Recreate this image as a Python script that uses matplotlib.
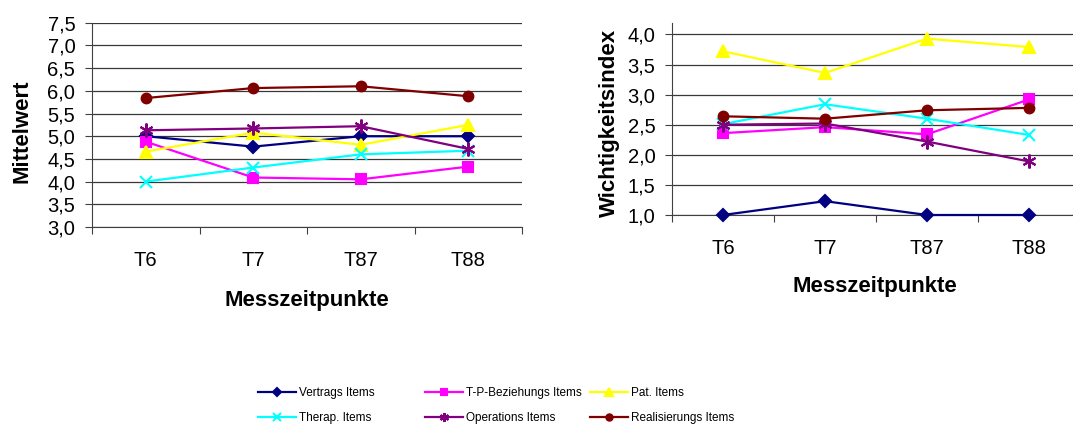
import matplotlib.pyplot as plt
import numpy as np

plt.rcParams['font.family'] = ['Liberation Sans', 'DejaVu Sans']

zeitpunkte = ['T6', 'T7', 'T87', 'T88']
namen = ['Vertrags Items', 'T-P-Beziehungs Items', 'Pat. Items',
         'Therap. Items', 'Operations Items', 'Realisierungs Items']

# Mittelwerte (linkes Diagramm)
mw_vertrag = [5.0, 4.77, 5.0, 5.0]
mw_tp = [4.88, 4.09, 4.05, 4.33]
mw_pat = [4.66, 5.08, 4.81, 5.25]
mw_therap = [4.0, 4.31, 4.6, 4.68]
mw_oper = [5.13, 5.17, 5.22, 4.72]
mw_real = [5.84, 6.06, 6.1, 5.88]

# Wichtigkeitsindex (rechtes Diagramm)
wi_vertrag = [1.0, 1.23, 1.0, 1.0]
wi_tp = [2.36, 2.46, 2.34, 2.92]
wi_pat = [3.72, 3.36, 3.93, 3.79]
wi_therap = [2.51, 2.84, 2.6, 2.33]
wi_oper = [2.5, 2.52, 2.22, 1.89]
wi_real = [2.64, 2.6, 2.74, 2.78]

farben = ['#000080', '#FF00FF', '#FFFF00', '#00FFFF', '#800080', '#800000']
marker = ['D', 's', '^', 'x', (6, 2, 0), 'o']
msize = [6, 7, 8, 8, 10, 7]

fig = plt.figure(figsize=(10.73, 4.3), dpi=100)
ax1 = fig.add_axes([92 / 1073, 1 - 227 / 430, 430 / 1073, 204.3 / 430])
ax2 = fig.add_axes([672 / 1073, 1 - 215 / 430, 408 / 1073, 192 / 430])

x = np.arange(len(zeitpunkte))
handles = []
for ax, daten in [(ax1, [mw_vertrag, mw_tp, mw_pat, mw_therap, mw_oper, mw_real]),
                  (ax2, [wi_vertrag, wi_tp, wi_pat, wi_therap, wi_oper, wi_real])]:
    hs = []
    for werte, c, m, ms, name in zip(daten, farben, marker, msize, namen):
        h, = ax.plot(x, werte, color=c, marker=m, markersize=ms, lw=1.6,
                     markeredgewidth=1.5, label=name, clip_on=False, zorder=3)
        hs.append(h)
    handles = hs
    ax.set_xlim(-0.5, 3.5)
    ax.set_xticks([-0.5, 0.5, 1.5, 2.5, 3.5])
    ax.set_xticklabels([])
    ax.set_xticks(x, minor=True)
    ax.set_xticklabels(zeitpunkte, minor=True)
    ax.tick_params(axis='x', which='major', direction='out', length=5, color='#404040')
    ax.tick_params(axis='x', which='minor', length=0, pad=17, labelsize=14.5)
    ax.tick_params(axis='y', direction='out', length=5, pad=7, labelsize=14.5, color='#404040')
    ax.grid(axis='y', color='#383838', lw=0.9)
    ax.set_axisbelow(True)
    for s in ['top', 'right']:
        ax.spines[s].set_visible(False)
    for s in ['left', 'bottom']:
        ax.spines[s].set_color('#404040')
    ax.set_xlabel('Messzeitpunkte', fontsize=16, fontweight='bold')

ax1.set_ylim(3.0, 7.5)
ax1.set_yticks(np.arange(3.0, 7.51, 0.5))
ax1.set_yticklabels([f'{v:.1f}'.replace('.', ',') for v in np.arange(3.0, 7.51, 0.5)])
ax1.set_ylabel('Mittelwert', fontsize=16, fontweight='bold')
ax1.xaxis.set_label_coords(0.5, -0.31)
ax1.yaxis.set_label_coords(-0.138, 0.47)

ax2.set_ylim(1.0, 4.19)
ax2.set_yticks(np.arange(1.0, 4.01, 0.5))
ax2.set_yticklabels([f'{v:.1f}'.replace('.', ',') for v in np.arange(1.0, 4.01, 0.5)])
ax2.set_ylabel('Wichtigkeitsindex', fontsize=16, fontweight='bold')
ax2.xaxis.set_label_coords(0.497, -0.318)
ax2.yaxis.set_label_coords(-0.127, 0.48)

# Legende in drei Spalten
for i, xpos in enumerate([258, 425, 590]):
    fig.legend([handles[i], handles[i + 3]], [namen[i], namen[i + 3]],
               loc='upper left', bbox_to_anchor=(xpos / 1073, 1 - 387 / 430),
               frameon=False, fontsize=8.5, handlelength=3.2, handletextpad=0.3,
               labelspacing=1.1, borderpad=0, borderaxespad=0, markerscale=0.65)

fig.savefig('out.png', dpi=100)
